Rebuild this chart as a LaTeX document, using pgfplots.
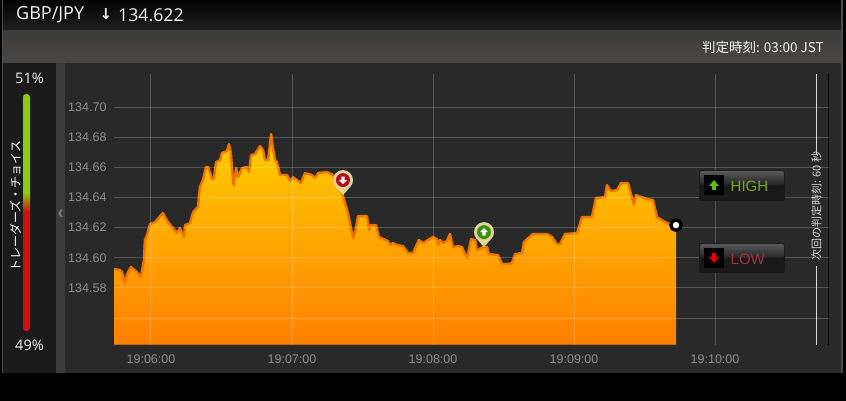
\documentclass[border=0pt]{standalone}
\usepackage{fontspec}
\usepackage{pgfplots}
\usepackage{pgfplotstable}
\pgfplotsset{compat=1.18}
\setmainfont{Liberation Sans}
\newfontfamily\opens{Open Sans}
\newfontfamily\dejavu{DejaVu Sans}
\newfontfamily\cjk{Noto Sans CJK JP}
\definecolor{topA}{HTML}{030303}
\definecolor{topB}{HTML}{1E1E1E}
\definecolor{barA}{HTML}{3C3C3C}
\definecolor{barB}{HTML}{4A4845}
\definecolor{panel}{HTML}{1B1B1B}
\definecolor{collapse}{HTML}{3B3B3B}
\definecolor{chartbg}{HTML}{292929}
\definecolor{ticktxt}{HTML}{8E8E8E}
\definecolor{areaTop}{HTML}{FFCE00}
\definecolor{areaBot}{HTML}{FF8000}
\definecolor{areaLine}{HTML}{EE7600}
\definecolor{areaBase}{HTML}{C96A10}
\definecolor{pincream}{HTML}{DDD49A}
\definecolor{pinred}{HTML}{B30F1E}
\definecolor{pingreen}{HTML}{3E8C10}
\definecolor{barGreen}{HTML}{8CC814}
\definecolor{barRed}{HTML}{CE1010}
\definecolor{hightxt}{HTML}{7FA81E}
\definecolor{lowtxt}{HTML}{A83040}
\newcommand{\defpin}[3]{%
  \pgfdeclareplotmark{#1}{%
    \pgfsetfillcolor{pincream}%
    \pgfpathcircle{\pgfpoint{0pt}{15pt}}{10pt}%
    \pgfpathmoveto{\pgfpoint{-7pt}{8pt}}%
    \pgfpathlineto{\pgfpoint{0pt}{0pt}}%
    \pgfpathlineto{\pgfpoint{7pt}{8pt}}%
    \pgfpathclose
    \pgfusepath{fill}%
    \pgfsetfillcolor{#2}%
    \pgfpathcircle{\pgfpoint{0pt}{15pt}}{7pt}%
    \pgfusepath{fill}%
    \pgfsetfillcolor{white}%
    \pgftransformshift{\pgfpoint{0pt}{15pt}}%
    \pgftransformyscale{#3}%
    \pgfpathmoveto{\pgfpoint{0pt}{4pt}}%
    \pgfpathlineto{\pgfpoint{4pt}{0pt}}%
    \pgfpathlineto{\pgfpoint{1.7pt}{0pt}}%
    \pgfpathlineto{\pgfpoint{1.7pt}{-3.5pt}}%
    \pgfpathlineto{\pgfpoint{-1.7pt}{-3.5pt}}%
    \pgfpathlineto{\pgfpoint{-1.7pt}{0pt}}%
    \pgfpathlineto{\pgfpoint{-4pt}{0pt}}%
    \pgfpathclose
    \pgfusepath{fill}%
  }%
}
\defpin{pindown}{pinred}{-1}
\defpin{pinup}{pingreen}{1}
\pgfplotstableread{
s price
-15.7 134.5926
-13.2 134.5919
-12.3 134.5906
-11.1 134.5833
-10.2 134.5892
-8.5 134.5939
-6.0 134.5906
-4.3 134.5873
-3.0 134.5985
-2.6 134.6118
-1.7 134.6151
-0.4 134.6224
1.7 134.6237
5.1 134.6297
7.2 134.6237
11.1 134.6164
12.3 134.6197
14.0 134.6138
14.5 134.6217
16.6 134.6230
17.9 134.6303
20.0 134.6337
20.8 134.6469
22.1 134.6516
23.4 134.6602
24.3 134.6602
26.0 134.6522
26.8 134.6529
27.7 134.6635
29.4 134.6648
30.2 134.6695
32.3 134.6708
33.2 134.6754
34.0 134.6695
34.9 134.6496
35.3 134.6482
36.2 134.6595
37.0 134.6535
38.7 134.6595
40.8 134.6602
41.7 134.6569
42.6 134.6681
44.3 134.6688
46.4 134.6741
47.7 134.6714
48.5 134.6648
49.8 134.6648
51.1 134.6821
51.9 134.6728
52.8 134.6648
53.6 134.6635
54.9 134.6549
57.9 134.6549
59.1 134.6509
60.4 134.6535
62.1 134.6516
63.8 134.6496
65.5 134.6562
68.5 134.6549
69.8 134.6529
71.1 134.6562
74.9 134.6569
77.4 134.6549
79.6 134.6482
81.3 134.6429
83.8 134.6297
86.0 134.6131
86.8 134.6164
88.1 134.6277
91.9 134.6277
92.8 134.6184
93.6 134.6217
95.7 134.6217
97.0 134.6138
100.8 134.6111
101.7 134.6085
103.0 134.6098
104.7 134.6085
107.2 134.6078
109.4 134.6032
111.5 134.6032
114.0 134.6118
115.7 134.6098
120.0 134.6138
121.7 134.6124
122.1 134.6085
123.0 134.6118
124.2 134.6098
125.9 134.6111
127.2 134.6158
128.5 134.6071
130.6 134.6078
132.3 134.6071
134.5 134.5998
136.2 134.6124
137.9 134.6118
138.7 134.6051
141.3 134.6071
143.0 134.6071
143.8 134.6025
147.6 134.6018
149.4 134.5959
151.5 134.5959
153.6 134.5965
154.9 134.6025
157.9 134.6032
158.7 134.6105
162.5 134.6158
168.5 134.6158
170.6 134.6138
172.8 134.6091
174.0 134.6091
176.2 134.6158
181.3 134.6164
183.4 134.6270
187.6 134.6270
189.3 134.6396
193.2 134.6403
194.0 134.6482
195.7 134.6443
198.3 134.6449
200.0 134.6496
203.0 134.6496
205.5 134.6350
206.4 134.6416
211.0 134.6390
213.6 134.6383
215.3 134.6270
219.6 134.6230
223.4 134.6217
}\pricedata
\begin{document}
\begin{tikzpicture}[x=1pt,y=1pt]
\useasboundingbox (0,0) rectangle (846,401);
\begin{scope}[x=1pt,y=-1pt,yshift=401pt]
  \fill[black] (0,0) rectangle (846,401);
  \shade[top color=topA,bottom color=topB,draw=none] (3,0) rectangle (841,30);
  \shade[top color=barA,bottom color=barB,draw=none] (3,31) rectangle (841,63);
  \fill[panel] (3,63) rectangle (56,373);
  \fill[collapse] (56,63) rectangle (65,373);
  \fill[chartbg] (65,63) rectangle (841,373);
  \fill[gray!60!black] (841,0) rectangle (843,373);
  \fill[gray!60!black] (2,0) rectangle (3,373);
  % trader's choice bar
  \fill[barGreen,rounded corners=3pt] (23,94) rectangle (30,200);
  \fill[barRed,rounded corners=3pt] (23,205) rectangle (30,331);
  \shade[top color=barGreen,bottom color=barRed,draw=none] (23,193) rectangle (30,212);
\end{scope}
\begin{axis}[
  at={(114pt,56pt)},anchor=south west,
  scale only axis,width=715pt,height=271pt,
  xmin=-15.74,xmax=288.5,ymin=134.5422,ymax=134.7219,
  axis on top,
  axis line style={draw=none},
  grid=major,
  major grid style={white,opacity=0.2,line width=1pt},
  major tick length=0pt,
  xtick={0,60,120,180,240},
  xticklabels={19:06:00,19:07:00,19:08:00,19:09:00,19:10:00},
  ytick={134.56,134.58,134.60,134.62,134.64,134.66,134.68,134.70},
  yticklabels={,134.58,134.60,134.62,134.64,134.66,134.68,134.70},
  tick label style={font=\fontsize{12.5}{14}\selectfont,text=ticktxt},
  xticklabel style={yshift=-6pt},
  yticklabel style={xshift=-4pt},
]
\addplot[draw=none,top color=areaTop,bottom color=areaBot] table[x=s,y=price]{\pricedata} \closedcycle;
\addplot[areaLine,line width=2.4pt,line join=round,mark=none] table[x=s,y=price]{\pricedata};
\addplot[areaBase,line width=1.2pt,mark=none] coordinates {(-15.7,134.5424) (223.4,134.5424)};
\addplot[white!70!gray,line width=1.2pt,mark=none] coordinates {(283.2,134.7219) (283.2,134.669)};
\addplot[white!70!gray,line width=1.2pt,mark=none] coordinates {(283.2,134.5945) (283.2,134.5422)};
\addplot[black,line width=1.2pt,mark=none] coordinates {(288.4,134.7219) (288.4,134.5422)};
\addplot[only marks,mark=pindown] coordinates {(81.7,134.6416)};
\addplot[only marks,mark=pinup] coordinates {(141.7,134.6071)};
\addplot[only marks,mark=*,mark size=5.2pt,mark options={draw=black,fill=white,line width=3.4pt}] coordinates {(223.4,134.6217)};
\end{axis}
\begin{scope}[x=1pt,y=-1pt,yshift=401pt]
  \node[anchor=west,text=white!92!gray,inner sep=0] at (16,15) {\opens\fontsize{18}{20}\selectfont GBP/JPY};
  \node[anchor=center,text=white!92!gray,inner sep=0] at (106,14.5) {\dejavu\bfseries\fontsize{15}{17}\selectfont ↓};
  \node[anchor=west,text=white!92!gray,inner sep=0] at (118,15) {\opens\fontsize{17.7}{20}\selectfont 134.622};
  \node[anchor=east,text=white!92!gray,inner sep=0] at (824,47.5) {\cjk\fontsize{13.5}{15}\selectfont 判定時刻: 03:00 JST};
  \node[text=white!92!gray,inner sep=0] at (29.5,78.5) {\opens\fontsize{14.5}{16}\selectfont 51\%};
  \node[text=white!92!gray,inner sep=0] at (29.5,345) {\opens\fontsize{14.5}{16}\selectfont 49\%};
  \node[rotate=90,text=white,inner sep=0] at (15.5,206) {\cjk\fontsize{12}{14}\selectfont トレーダーズ・チョイス};
  \node[text=gray,inner sep=0] at (60.5,214) {\bfseries\fontsize{18}{20}\selectfont ‹};
  \node[rotate=90,text=white!70!gray,inner sep=0] at (816.5,206) {\cjk\fontsize{11}{13}\selectfont 次回の判定時刻: 60 秒};
  % HIGH button
  \fill[black!90,rounded corners=3pt] (699,170) rectangle (785,201);
  \shade[top color=white!35!black,bottom color=white!14!black,rounded corners=2pt] (700,171) rectangle (784,185);
  \fill[white!10!black,rounded corners=2pt] (700,185) rectangle (784,200);
  \fill[black] (704,175) rectangle (724,195);
  \fill[hightxt!80!green] (714,180) -- (719,186) -- (716,186) -- (716,190) -- (712,190) -- (712,186) -- (709,186) -- cycle;
  \node[anchor=west,text=hightxt,inner sep=0] at (730.5,186) {\fontsize{15}{17}\selectfont HIGH};
  % LOW button
  \fill[black!90,rounded corners=3pt] (699,243) rectangle (785,273);
  \shade[top color=white!35!black,bottom color=white!14!black,rounded corners=2pt] (700,244) rectangle (784,258);
  \fill[white!10!black,rounded corners=2pt] (700,258) rectangle (784,272);
  \fill[black] (704,248) rectangle (724,268);
  \fill[red!90!black] (714,263) -- (719,257) -- (716,257) -- (716,253) -- (712,253) -- (712,257) -- (709,257) -- cycle;
  \node[anchor=west,text=lowtxt,inner sep=0] at (730.5,259) {\fontsize{15}{17}\selectfont LOW};
\end{scope}
\end{tikzpicture}
\end{document}
